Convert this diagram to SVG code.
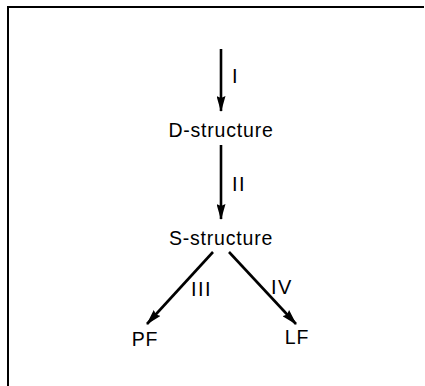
<svg xmlns="http://www.w3.org/2000/svg" width="425" height="386" viewBox="0 0 425 386">
  <style>
    .frame { stroke: #000; stroke-width: 2; fill: none; }
    .edge { stroke: #000; stroke-width: 2.6; fill: none; marker-end: url(#head); }
    .node { font-family: "Liberation Sans", Arial, sans-serif; font-size: 19.5px; letter-spacing: 0.8px; fill: #000; text-anchor: middle; }
    .lbl { font-family: "Liberation Sans", Arial, sans-serif; font-size: 20px; letter-spacing: 1.5px; fill: #000; }
  </style>
  <defs>
    <marker id="head" viewBox="0 0 16 9" refX="15" refY="4.5" markerWidth="16" markerHeight="9" markerUnits="userSpaceOnUse" orient="auto">
      <path d="M0,0 L16,4.5 L0,9 L2,4.5 Z" fill="#000"/>
    </marker>
  </defs>
  <rect width="425" height="386" fill="#fff"/>
  <path class="frame" d="M8,386 V7 H424"/>

  <g id="connectors">
    <line class="edge" x1="221" y1="49" x2="221" y2="111"/>
    <line class="edge" x1="221" y1="145" x2="221" y2="219"/>
    <line class="edge" x1="213" y1="252" x2="147" y2="324"/>
    <line class="edge" x1="229" y1="252" x2="296" y2="324"/>
    <text class="lbl" x="232" y="83">I</text>
    <text class="lbl" x="232" y="191">II</text>
    <text class="lbl" x="191" y="296">III</text>
    <text class="lbl" x="271" y="294">IV</text>
  </g>

  <g id="d-structure"><text class="node" x="221" y="137">D-structure</text></g>
  <g id="s-structure"><text class="node" x="221" y="245">S-structure</text></g>
  <g id="pf"><text class="node" x="145" y="346">PF</text></g>
  <g id="lf"><text class="node" x="297" y="344">LF</text></g>
</svg>
